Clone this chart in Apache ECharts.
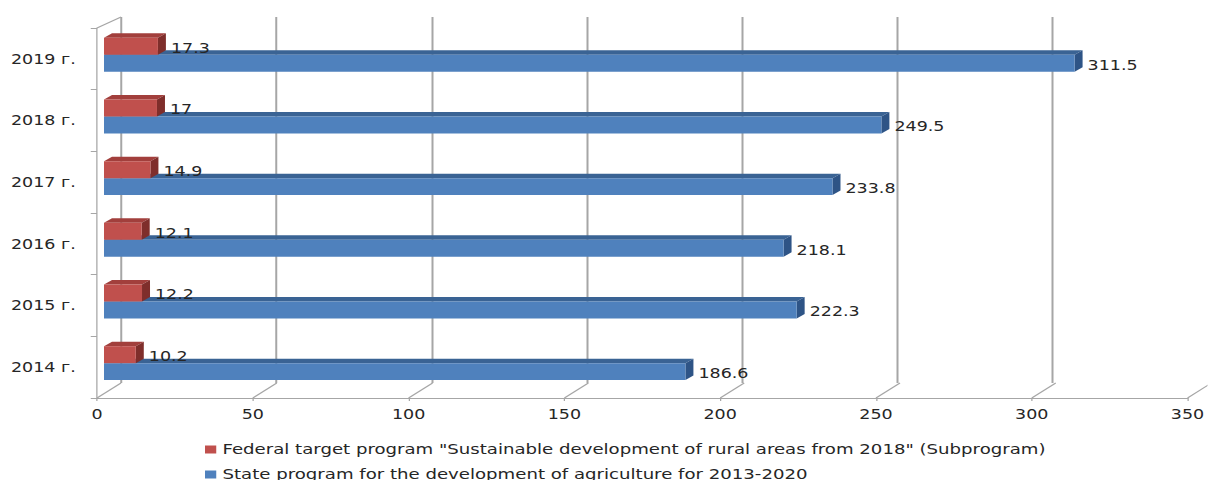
<!DOCTYPE html>
<html>
<head>
<meta charset="utf-8">
<script src="https://cdn.jsdelivr.net/npm/echarts@6/dist/echarts.min.js"></script>
<style>
html,body{margin:0;padding:0;background:#fff;overflow:hidden;width:1208px;height:480px;}
#wrap{position:absolute;left:0;top:0;height:480px;transform-origin:0 0;}
</style>
</head>
<body>
<div id="wrap"></div>
<script>
// ---- data ----
const categories = ['2014 г.', '2015 г.', '2016 г.', '2017 г.', '2018 г.', '2019 г.'];
const federalValues = [10.2, 12.2, 12.1, 14.9, 17, 17.3];
const stateValues = [186.6, 222.3, 218.1, 233.8, 249.5, 311.5];
const xTicks = [0, 50, 100, 150, 200, 250, 300, 350];
const federalName = 'Federal target program "Sustainable development of rural areas from 2018" (Subprogram)';
const stateName = 'State program for the development of agriculture for 2013-2020';

// ---- layout (the reference is horizontally stretched) ----
const S = 1.25;
const W = 1208 / S;
const wrap = document.getElementById('wrap');
wrap.style.width = W + 'px';
wrap.style.transform = 'scaleX(' + S + ')';

const FONT = '"DejaVu Sans", Verdana, sans-serif';
const TXT = '#262626';
const GRID = '#A6A6A6';
const frontLeft = 97 / S, frontRight = 1192 / S;
const wallDx = 24 / S, wallDyBottom = -15, wallDyTop = -11;

function barRenderer(topFrac, botFrac, colors) {
  return function (params, api) {
    const v = api.value(0), i = api.value(1);
    const p0 = api.coord([0, i]);
    const p1 = api.coord([v, i]);
    const band = api.size([0, 1])[1];
    const c = p0[1];
    const ox = 7 / S;
    const dx = 8 / S, dy = -4.5;
    const x0 = p0[0] + ox, x1 = p1[0] + ox;
    const top = c + topFrac * band, bot = c + botFrac * band;
    return {
      type: 'group',
      children: [
        { type: 'polygon', shape: { points: [[x0, top], [x1, top], [x1 + dx, top + dy], [x0 + dx, top + dy]] }, style: { fill: colors[1] } },
        { type: 'polygon', shape: { points: [[x1, top], [x1 + dx, top + dy], [x1 + dx, bot + dy], [x1, bot]] }, style: { fill: colors[2] } },
        { type: 'rect', shape: { x: x0, y: top, width: x1 - x0, height: bot - top }, style: { fill: colors[0] } },
        { type: 'text', style: { text: String(v), x: x1 + dx + 5 / S, y: (top + bot) / 2 + 1.5, fill: TXT, font: '14px ' + FONT, align: 'left', verticalAlign: 'middle' } }
      ]
    };
  };
}

const chart = echarts.init(wrap, null, { renderer: 'svg', width: W, height: 480 });
chart.setOption({
  animation: false,
  backgroundColor: '#fff',
  grid: [
    { left: frontLeft, right: W - frontRight, top: 28, bottom: 82 },
    { left: frontLeft + wallDx, right: W - frontRight - wallDx, top: 17, bottom: 97 }
  ],
  xAxis: [
    {
      type: 'value', gridIndex: 0, min: 0, max: 350, interval: 50,
      axisLine: { show: true, lineStyle: { color: GRID, width: 1 } },
      axisTick: { show: true, length: 3, lineStyle: { color: GRID } },
      axisLabel: { color: TXT, fontSize: 14, fontFamily: FONT, margin: 9 },
      splitLine: { show: false }
    },
    {
      type: 'value', gridIndex: 1, min: 0, max: 350, interval: 50,
      axisLine: { show: false }, axisTick: { show: false }, axisLabel: { show: false },
      splitLine: { show: true, lineStyle: { color: GRID, width: 1.6 } }
    }
  ],
  yAxis: [
    {
      type: 'category', gridIndex: 0, data: categories,
      axisLine: { show: true, lineStyle: { color: GRID, width: 1 } },
      axisTick: { show: true, length: 5, lineStyle: { color: GRID } },
      axisLabel: { color: TXT, fontSize: 14, fontFamily: FONT, margin: 17 },
      splitLine: { show: false }
    },
    { type: 'category', gridIndex: 1, data: categories, show: false }
  ],
  legend: {
    orient: 'vertical', left: 205 / S, top: 441, height: 80, width: 800,
    itemWidth: 9, itemHeight: 8, itemGap: 8, icon: 'rect', padding: 0,
    textStyle: { color: TXT, fontSize: 14.5, fontFamily: FONT, lineHeight: 17 },
    data: [federalName, stateName]
  },
  series: [
    {
      type: 'custom', name: 'walls', xAxisIndex: 0, yAxisIndex: 0, silent: true, clip: false, z: 1,
      data: xTicks.map(function (t) { return [t, 0]; }),
      encode: { x: 0, y: 1 },
      renderItem: function (params, api) {
        const cs = params.coordSys;
        const x = api.coord([api.value(0), 0])[0];
        const yb = cs.y + cs.height;
        const children = [
          { type: 'line', shape: { x1: x, y1: yb, x2: x + wallDx, y2: yb + wallDyBottom }, style: { stroke: GRID, lineWidth: 1 } }
        ];
        if (api.value(0) === 0) {
          children.push({ type: 'line', shape: { x1: x, y1: cs.y, x2: x + wallDx, y2: cs.y + wallDyTop }, style: { stroke: GRID, lineWidth: 1 } });
        }
        return { type: 'group', children: children };
      }
    },
    {
      type: 'custom', name: stateName, xAxisIndex: 0, yAxisIndex: 0, z: 2, clip: false,
      itemStyle: { color: '#4F81BD' },
      data: stateValues.map(function (v, i) { return [v, i]; }),
      encode: { x: 0, y: 1 },
      renderItem: barRenderer(-0.065, 0.21, ['#4F81BD', '#3A6394', '#2E5486'])
    },
    {
      type: 'custom', name: federalName, xAxisIndex: 0, yAxisIndex: 0, z: 3, clip: false,
      itemStyle: { color: '#C0504D' },
      data: federalValues.map(function (v, i) { return [v, i]; }),
      encode: { x: 0, y: 1 },
      renderItem: barRenderer(-0.34, -0.065, ['#C0504D', '#A23F3C', '#7F2E2B'])
    }
  ]
});
</script>
</body>
</html>
